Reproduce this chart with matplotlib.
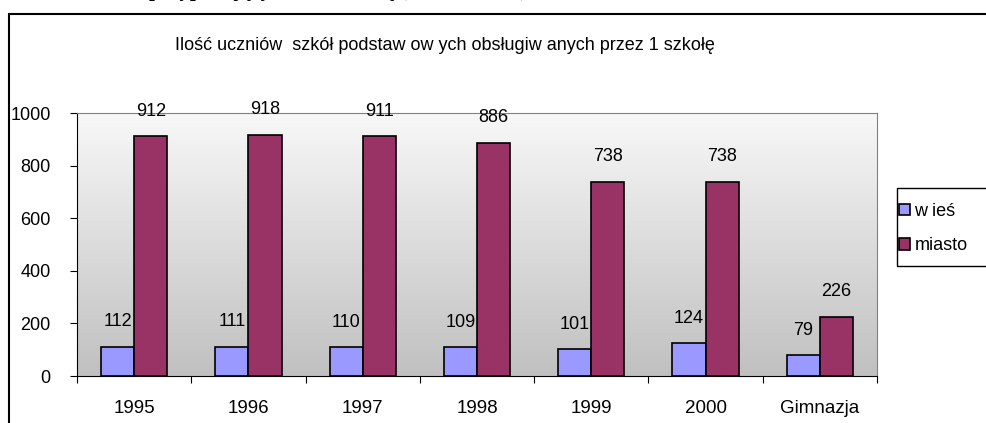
import numpy as np
import matplotlib.pyplot as plt
from matplotlib.patches import Rectangle
from matplotlib.colors import LinearSegmentedColormap

plt.rcParams['font.family'] = ['Liberation Sans', 'DejaVu Sans']

# data
categories = ["1995", "1996", "1997", "1998", "1999", "2000", "Gimnazja"]
wies = [112, 111, 110, 109, 101, 124, 79]
miasto = [912, 918, 911, 886, 738, 738, 226]
series_names = ["w ieś", "miasto"]
chart_title = "Ilość uczniów  szkół podstaw ow ych obsługiw anych przez 1 szkołę"
page_title = "Liczba uczniów przypadających na 1 szkołę (wieś i miasto)"

fig = plt.figure(figsize=(9.86, 4.23), dpi=100)
fig.patch.set_facecolor("white")

# page heading above the chart, mostly cut off by the top edge
fig.text(0.27, 1.0 + 4 / 423, page_title, family="Liberation Serif", weight="bold",
         fontsize=15, ha="center", va="baseline")

# outer chart frame (partly off the page)
fig.patches.append(Rectangle((9 / 986, -0.1), 1.2, 1.0 - 14 / 423 + 0.1,
                             transform=fig.transFigure, fill=False,
                             edgecolor="black", linewidth=1.5))

ax = fig.add_axes([77 / 986, 47 / 423, 800 / 986, 263 / 423])

# gradient background
grad = np.linspace(0, 1, 256).reshape(-1, 1)
cmap = LinearSegmentedColormap.from_list("bg", ["#c0c0c0", "#f8f8f8"])
ax.imshow(grad, extent=[0, 1, 0, 1], transform=ax.transAxes, aspect="auto",
          cmap=cmap, origin="lower", zorder=0)

x = np.arange(len(categories))
w = 0.29
b1 = ax.bar(x - w / 2, wies, w, color="#9999ff", edgecolor="black", linewidth=1.2,
            label=series_names[0], zorder=2)
b2 = ax.bar(x + w / 2, miasto, w, color="#993366", edgecolor="black", linewidth=1.2,
            label=series_names[1], zorder=2)

for bars, vals in ((b1, wies), (b2, miasto)):
    for r, v in zip(bars, vals):
        ax.annotate(str(v), (r.get_x() + r.get_width() / 2, v), xytext=(0, 25),
                    textcoords="offset pixels", ha="center", va="center",
                    fontsize=13, annotation_clip=False, zorder=3)

ax.set_xlim(-0.5, len(categories) - 0.5)
ax.set_ylim(0, 1000)
ax.set_yticks(range(0, 1001, 200))
ax.set_xticks(np.arange(len(categories) + 1) - 0.5)
ax.set_xticklabels([])
ax.set_xticks(x, minor=True)
ax.set_xticklabels(categories, minor=True, fontsize=13.5)
ax.tick_params(axis="x", which="minor", length=0, pad=17)
ax.tick_params(axis="x", which="major", length=5, direction="out", color="black")
ax.tick_params(axis="y", length=5, direction="out", labelsize=13, pad=14)

for s in ("top", "right"):
    ax.spines[s].set_color("#808080")
for s in ("left", "bottom"):
    ax.spines[s].set_color("black")

fig.text(445 / 986, 1.0 - 45 / 423, chart_title, fontsize=13, ha="center", va="center")

# legend box drawn by hand, it runs past the right edge
fig.patches.append(Rectangle((897 / 986, 1.0 - 266 / 423), 0.2, 78 / 423,
                             transform=fig.transFigure, fill=True, facecolor="white",
                             edgecolor="black", linewidth=1.0))
fig.legend(loc="upper left", bbox_to_anchor=(899 / 986, 1.0 - 203 / 423),
           fontsize=13, frameon=False,
           handlelength=0.6, handleheight=0.6, handletextpad=0.25,
           borderpad=0, labelspacing=0.95, borderaxespad=0)

fig.savefig("out.png", dpi=100)
